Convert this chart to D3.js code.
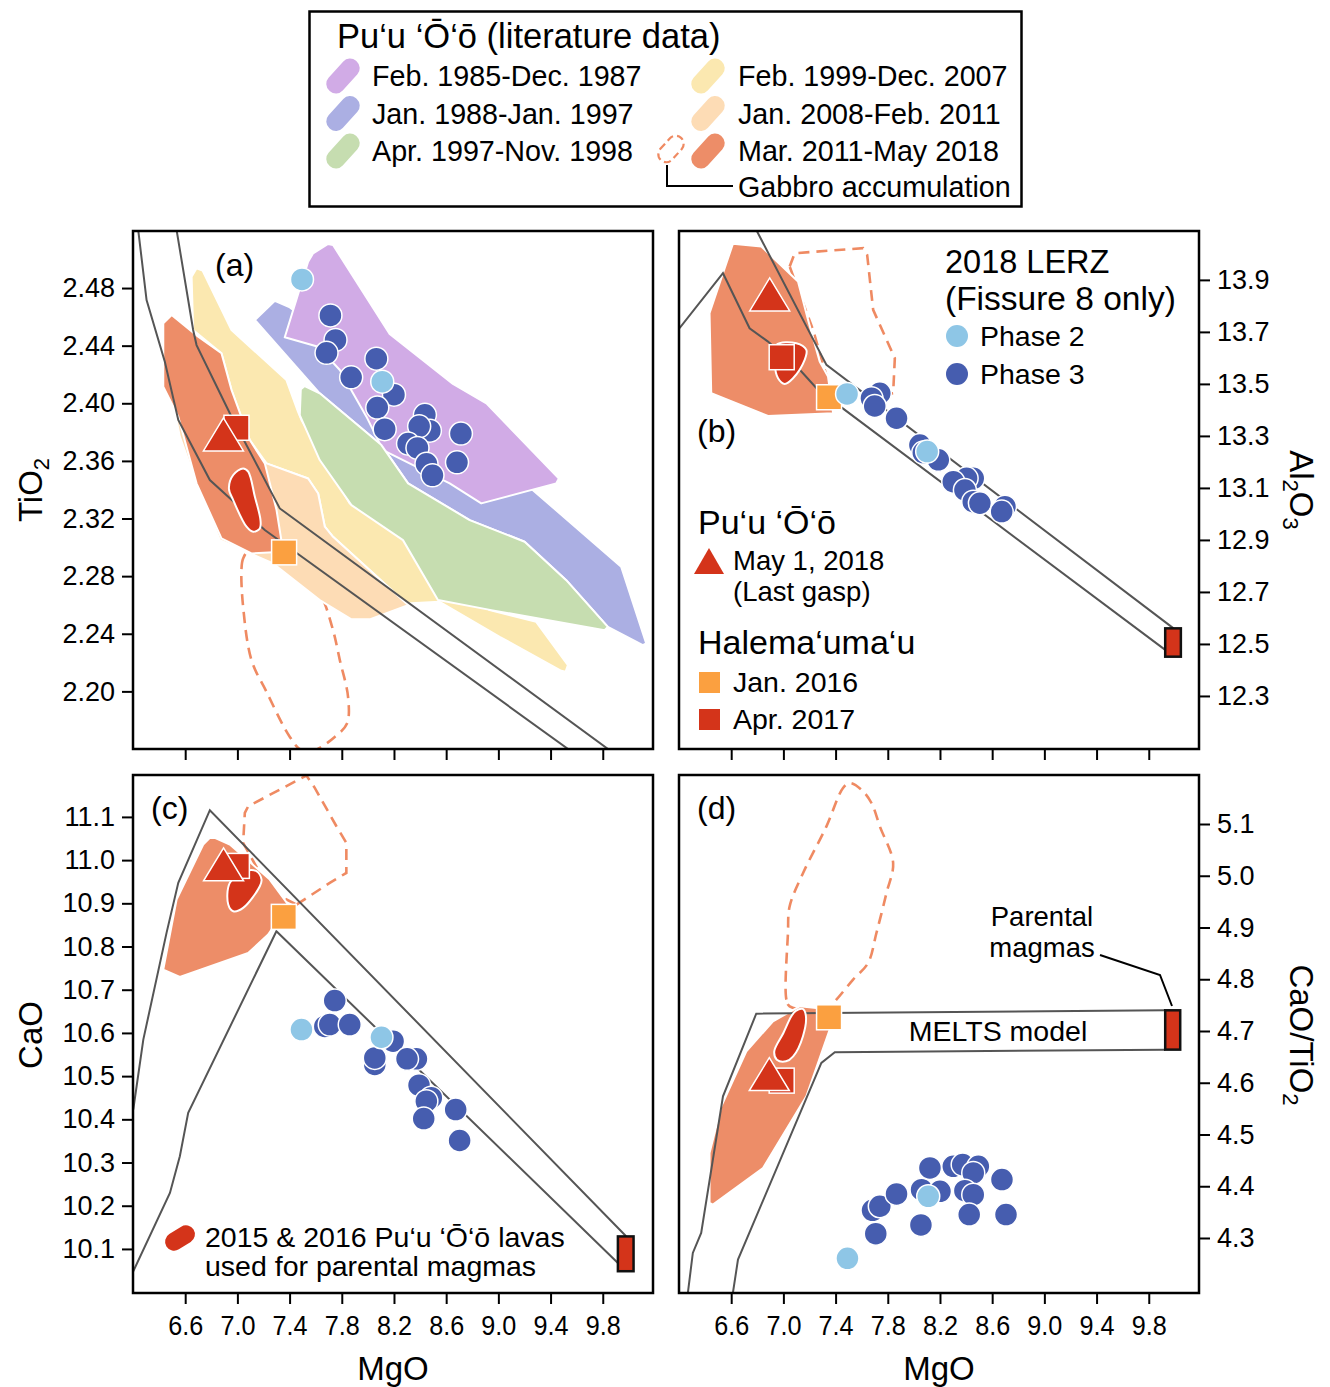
<!DOCTYPE html>
<html>
<head>
<meta charset="utf-8">
<script src="https://cdn.jsdelivr.net/npm/d3@7"></script>
<style>
  body { margin: 0; background: #fff; }
  svg { font-family: "Liberation Sans", Arial, Helvetica, sans-serif; }
</style>
</head>
<body>
<svg id="fig" width="1330" height="1387"></svg>
<script>
// ---- axis ranges and ticks ----
var mgDomain = [6.2, 10.185];
var mgTicks = [6.6, 7.0, 7.4, 7.8, 8.2, 8.6, 9.0, 9.4, 9.8];
var tiTicks = [2.20, 2.24, 2.28, 2.32, 2.36, 2.40, 2.44, 2.48];
var alTicks = [12.3, 12.5, 12.7, 12.9, 13.1, 13.3, 13.5, 13.7, 13.9];
var caTicks = [10.1, 10.2, 10.3, 10.4, 10.5, 10.6, 10.7, 10.8, 10.9, 11.0, 11.1];
var ratioTicks = [4.3, 4.4, 4.5, 4.6, 4.7, 4.8, 4.9, 5.0, 5.1];

// ---- colours ----
var cPurple = "#d1abe6", cBlue = "#abafe3", cGreen = "#c6ddb0", cYellow = "#fbe8b0",
    cPeach = "#fddcb5", cSalmon = "#ed8d68", cRed = "#d4341a", cOrange = "#fba040",
    cPhase2 = "#8ec6e6", cPhase3 = "#465daf", cLine = "#555555", cGabbro = "#ef8a62";

// ---- (a) TiO2 vs MgO ----
var tiPurple = [[7.619,2.4393],[7.785,2.4231],[7.989,2.3907],[8.116,2.3675],[8.627,2.3444],[8.869,2.3305],
  [9.443,2.3444],[9.464,2.3478],[8.908,2.3999],[8.652,2.4134],[8.167,2.4481],[7.733,2.5099],[7.695,2.5106],
  [7.58,2.5041],[7.542,2.4983],[7.363,2.4458]];
var tiBlue = [[7.287,2.4712],[7.402,2.4666],[9.265,2.3397],[9.941,2.2865],[10.133,2.2333],[10.107,2.2321],
  [9.839,2.2448],[9.52,2.2772],[9.201,2.3039],[8.78,2.3189],[8.308,2.3444],[8.104,2.371],[7.631,2.4069],[7.134,2.4578]];
var tiYellow = [[6.687,2.4937],[6.733,2.4921],[6.955,2.4509],[7.376,2.4161],[7.465,2.3941],[7.491,2.3884],
  [7.861,2.3305],[8.32,2.3039],[8.933,2.2564],[9.29,2.2483],[9.533,2.2182],[9.515,2.2136],[9.482,2.2143],
  [9.01,2.2379],[8.55,2.2622],[8.295,2.261],[7.733,2.3073],[7.67,2.3143],[7.619,2.3374],[7.542,2.3478],
  [7.223,2.3583],[7.095,2.3745],[6.955,2.4092],[6.878,2.4347],[6.661,2.4509],[6.649,2.4879]];
var tiGreen = [[7.516,2.412],[7.486,2.4097],[7.478,2.3918],[7.631,2.3606],[7.874,2.3293],[8.269,2.305],
  [8.537,2.2634],[8.946,2.2564],[9.814,2.2425],[9.839,2.2448],[9.52,2.2772],[9.201,2.3039],[8.78,2.3189],
  [8.308,2.3444],[8.104,2.371],[7.631,2.4069]];
var tiPeach = [[6.521,2.3942],[6.559,2.3768],[6.687,2.3444],[6.866,2.305],[7.274,2.2888],[7.631,2.2634],
  [7.874,2.25],[8.014,2.25],[8.308,2.2599],[7.733,2.3073],[7.67,2.3143],[7.619,2.3374],[7.542,2.3478],
  [7.223,2.3583],[7.044,2.3768],[6.712,2.3953]];
var tiSalmon = [[6.496,2.4613],[6.432,2.4555],[6.432,2.4115],[6.547,2.3907],[6.687,2.3444],[6.878,2.3062],
  [7.108,2.2958],[7.351,2.2969],[7.30,2.3259],[7.21,2.3583],[7.095,2.3745],[6.955,2.4092],[6.878,2.4347],[6.70,2.4462]];
var tiGabbro = [[7.095,2.298],[7.044,2.2923],[7.031,2.2842],[7.044,2.2587],[7.108,2.2217],[7.223,2.1997],
  [7.402,2.1684],[7.491,2.1592],[7.593,2.1592],[7.746,2.1684],[7.84,2.1777],[7.848,2.1962],[7.785,2.2217],
  [7.733,2.2425],[7.656,2.2634],[7.631,2.2657],[7.351,2.2888]];
var tiBlob = [[7.044,2.3548],[6.968,2.3502],[6.935,2.3409],[6.968,2.3328],[7.07,2.3143],[7.121,2.3108],
  [7.172,2.3131],[7.177,2.3189],[7.134,2.3351],[7.083,2.3525]];
var tiMeltsA = [[6.24,2.5203],[6.304,2.4717],[6.444,2.4289],[6.547,2.3884],[6.789,2.3467],[7.21,2.312],[9.546,2.1592]];
var tiMeltsB = [[6.534,2.5203],[6.661,2.4509],[6.687,2.4404],[6.955,2.3907],[7.325,2.327],[9.852,2.1592]];
var tiPhase2 = [[7.495,2.486],[8.11,2.415]];
var tiPhase3 = [[7.713,2.461],[7.752,2.444],[7.683,2.435],[8.065,2.431],[7.872,2.418],[8.20,2.406],[8.072,2.397],
  [8.129,2.382],[8.437,2.392],[8.475,2.381],[8.393,2.384],[8.308,2.372],[8.38,2.369],[8.449,2.358],[8.495,2.350],
  [8.713,2.379],[8.683,2.359]];
var tiLastGasp = [6.893, 2.378], tiJan2016 = [7.358, 2.2965], tiApr2017 = [6.993, 2.383];

// ---- (b) Al2O3 vs MgO ----
var alSalmon = [[6.613,14.0385],[6.537,13.9256],[6.434,13.7718],[6.447,13.4641],[6.882,13.3769],[7.381,13.3872],
  [7.342,13.5282],[7.278,13.5859],[7.189,13.7462],[7.112,13.8936],[6.831,14.0282]];
var alGabbro = [[7.048,13.9513],[7.087,14.0026],[7.611,14.0218],[7.642,13.9962],[7.688,13.7846],[7.854,13.5987],
  [7.841,13.4641],[7.637,13.4513],[7.355,13.4897],[7.227,13.7077]];
var alBlob = [[6.946,13.65],[7.099,13.6564],[7.176,13.6308],[7.163,13.5923],[7.074,13.5218],[7.01,13.5],
  [6.959,13.5218],[6.933,13.5795]];
var alMeltsA = [[6.792,14.0923],[7.33,13.573],[9.99,12.56]];
var alMeltsB = [[6.204,13.714],[6.537,13.9256],[6.741,13.714],[6.882,13.6628],[7.138,13.5474],[7.266,13.477],[9.926,12.477]];
var alParental = [[9.926, 10.046], [12.451, 12.56]];
var alPhase2 = [[7.488,13.4615],[8.102,13.2397]];
var alPhase3 = [[7.739,13.464],[7.675,13.445],[7.70,13.415],[7.867,13.368],[8.046,13.265],[8.187,13.208],[8.072,13.236],
  [8.455,13.137],[8.404,13.137],[8.302,13.124],[8.391,13.092],[8.455,13.047],[8.506,13.041],[8.698,13.028],[8.673,13.009]];
var alLastGasp = [6.895, 13.842], alJan2016 = [7.35, 13.4487], alApr2017 = [6.987, 13.6026];

// ---- (c) CaO vs MgO ----
var caSalmon = [[6.789,11.0514],[6.738,11.036],[6.534,10.9087],[6.432,10.7467],[6.559,10.7297],[7.083,10.7852],
  [7.236,10.8277],[7.389,10.8971],[7.248,10.955],[6.942,11.036],[6.827,11.0514]];
var caGabbro = [[7.453,10.8971],[7.708,10.9473],[7.835,10.9704],[7.835,11.0399],[7.759,11.0784],[7.593,11.1672],
  [7.529,11.1957],[7.083,11.1247],[7.057,11.1093],[7.044,11.0399],[7.172,10.9704],[7.325,10.9164]];
var caBlob = [[6.942,10.9473],[7.057,10.9743],[7.146,10.9743],[7.185,10.955],[7.172,10.9396],[7.044,10.8894],
  [6.968,10.8817],[6.93,10.8971]];
var caMeltsA = [[6.202,10.4226],[6.279,10.5846],[6.457,10.8315],[6.547,10.9473],[6.789,11.1155],[9.979,10.1294]];
var caMeltsB = [[6.202,10.0483],[6.483,10.2296],[6.559,10.3146],[6.623,10.4149],[7.299,10.8354],[9.916,10.0676]];
var caParental = [[9.916, 10.036], [10.0484, 10.129]];
var caPhase2 = [[7.491,10.6078],[8.104,10.59]];
var caPhase3 = [[7.67,10.615],[7.746,10.6749],[7.708,10.6193],[7.861,10.6193],[8.193,10.5808],[8.053,10.527],
  [8.053,10.5422],[8.372,10.54],[8.30,10.54],[8.392,10.479],[8.486,10.45],[8.448,10.442],[8.673,10.4226],
  [8.428,10.4018],[8.703,10.351]];
var caLastGasp = [6.894, 10.989], caJan2016 = [7.356, 10.8686], caApr2017 = [6.996, 10.9866];

// ---- (d) CaO/TiO2 vs MgO ----
var rtSalmon = [[7.125,4.7477],[6.92,4.7188],[6.716,4.6608],[6.524,4.5545],[6.434,4.4643],[6.434,4.3677],
  [6.46,4.3645],[6.844,4.4353],[7.176,4.5738],[7.355,4.7026],[7.253,4.7445]];
var rtGabbro = [[7.048,4.7477],[7.023,4.7606],[7.035,4.8894],[7.048,4.9409],[7.151,5.0054],[7.33,5.0955],
  [7.457,5.1696],[7.509,5.1793],[7.598,5.1664],[7.675,5.1406],[7.739,5.0955],[7.841,5.0247],[7.79,4.9667],
  [7.713,4.8894],[7.649,4.8315],[7.534,4.7993],[7.406,4.7606],[7.33,4.7413]];
var rtBlob = [[7.095,4.739],[7.148,4.7426],[7.172,4.730],[7.150,4.690],[7.075,4.651],[7.020,4.6414],
  [6.950,4.6446],[6.930,4.6607],[7.000,4.6962],[7.061,4.7284]];
var rtMeltsA = [[6.268,4.1938],[6.306,4.2711],[6.37,4.3097],[6.537,4.5738],[6.792,4.7335],[9.926,4.74]];
var rtMeltsB = [[6.613,4.1938],[6.652,4.2582],[7.291,4.6382],[7.394,4.6588],[9.926,4.664]];
var rtParental = [[9.926, 10.041], [4.664, 4.74]];
var rtPhase2 = [[7.491,4.2608],[8.11,4.3806]];
var rtPhase3 = [[7.683,4.3535],[7.739,4.3613],[7.867,4.3851],[8.059,4.3934],[8.20,4.3902],[8.123,4.4353],
  [8.302,4.4385],[8.374,4.4418],[8.494,4.4385],[8.455,4.4257],[8.391,4.3915],[8.455,4.3838],[8.675,4.4128],
  [8.424,4.3452],[8.706,4.3452],[8.054,4.3252],[7.708,4.3084]];
var rtLastGasp = [6.892, 4.6157], rtJan2016 = [7.35, 4.7265], rtApr2017 = [6.987, 4.6041];

var svg = d3.select("#fig");
var triPath = "M0,-17L20,16L-20,16Z";

function drawPanel(p) {
  var g = svg.append("g").attr("transform", "translate(" + p.x0 + "," + p.y0 + ")");
  var x = d3.scaleLinear().domain(mgDomain).range([0, p.w]);
  var y = d3.scaleLinear().domain(p.yDomain).range([p.h, 0]);

  g.append("clipPath").attr("id", "clip-" + p.id)
    .append("rect").attr("width", p.w).attr("height", p.h);
  var plot = g.append("g").attr("clip-path", "url(#clip-" + p.id + ")");

  var open = d3.line().x(function(d) { return x(d[0]); }).y(function(d) { return y(d[1]); });
  var closed = d3.line().x(function(d) { return x(d[0]); }).y(function(d) { return y(d[1]); })
    .curve(d3.curveLinearClosed);
  var smooth = d3.line().x(function(d) { return x(d[0]); }).y(function(d) { return y(d[1]); })
    .curve(d3.curveCatmullRomClosed.alpha(0.5));

  // gabbro accumulation outline
  plot.append("path").attr("d", (p.smoothGabbro ? smooth : closed)(p.gabbro))
    .attr("fill", "none").attr("stroke", cGabbro).attr("stroke-width", 2.6)
    .attr("stroke-dasharray", "11,7");

  // literature fields
  plot.selectAll("path.field").data(p.fields).enter().append("path")
    .attr("class", "field")
    .attr("d", function(d) { return closed(d.pts); })
    .attr("fill", function(d) { return d.color; })
    .attr("stroke", "#fff").attr("stroke-width", 2).attr("stroke-linejoin", "round");

  // MELTS model curves
  plot.selectAll("path.melts").data(p.melts).enter().append("path")
    .attr("class", "melts")
    .attr("d", open).attr("fill", "none").attr("stroke", cLine).attr("stroke-width", 2);

  if (p.parental) {
    plot.append("rect")
      .attr("x", x(p.parental[0][0])).attr("width", x(p.parental[0][1]) - x(p.parental[0][0]))
      .attr("y", y(p.parental[1][1])).attr("height", y(p.parental[1][0]) - y(p.parental[1][1]))
      .attr("fill", cRed).attr("stroke", "#111").attr("stroke-width", 2.5);
  }

  // 2015-2016 lavas blob
  plot.append("path").attr("d", smooth(p.blob))
    .attr("fill", cRed).attr("stroke", "#fff").attr("stroke-width", 2);

  function square(pt, color) {
    plot.append("rect").attr("x", x(pt[0]) - 12.5).attr("y", y(pt[1]) - 12.5)
      .attr("width", 25).attr("height", 25)
      .attr("fill", color).attr("stroke", "#fff").attr("stroke-width", 1.5);
  }
  square(p.jan2016, cOrange);
  square(p.apr2017, cRed);
  plot.append("path").attr("d", triPath)
    .attr("transform", "translate(" + x(p.lastGasp[0]) + "," + y(p.lastGasp[1]) + ")")
    .attr("fill", cRed).attr("stroke", "#fff").attr("stroke-width", 1.5);

  plot.selectAll("circle.p3").data(p.phase3).enter().append("circle")
    .attr("class", "p3")
    .attr("cx", function(d) { return x(d[0]); }).attr("cy", function(d) { return y(d[1]); })
    .attr("r", 11.5).attr("fill", cPhase3).attr("stroke", "#fff").attr("stroke-width", 1.5);
  plot.selectAll("circle.p2").data(p.phase2).enter().append("circle")
    .attr("class", "p2")
    .attr("cx", function(d) { return x(d[0]); }).attr("cy", function(d) { return y(d[1]); })
    .attr("r", 11.5).attr("fill", cPhase2).attr("stroke", "#fff").attr("stroke-width", 1.5);

  // axes
  var xa = g.append("g").attr("transform", "translate(0," + p.h + ")")
    .call(d3.axisBottom(x).tickValues(mgTicks).tickSize(11).tickPadding(12)
      .tickFormat(p.xLabels ? d3.format(".1f") : function() { return ""; }));
  var ya = g.append("g").attr("transform", p.side === "left" ? "translate(0,0)" : "translate(" + p.w + ",0)")
    .call((p.side === "left" ? d3.axisLeft(y) : d3.axisRight(y)).tickValues(p.ticks)
      .tickSize(11).tickPadding(7).tickFormat(d3.format(p.fmt)));
  [xa, ya].forEach(function(a) {
    a.select(".domain").remove();
    a.selectAll(".tick line").attr("stroke", "#000").attr("stroke-width", 2);
    a.selectAll(".tick text").attr("fill", "#000").attr("font-size", 27)
      .attr("font-family", "'Liberation Sans', Arial, sans-serif");
  });
  xa.selectAll(".tick text").attr("textLength", 35).attr("lengthAdjust", "spacingAndGlyphs");

  g.append("rect").attr("width", p.w).attr("height", p.h)
    .attr("fill", "none").attr("stroke", "#000").attr("stroke-width", 2.5);

  g.append("text").attr("x", p.labelPos[0]).attr("y", p.labelPos[1])
    .attr("font-size", 32).text("(" + p.id + ")");
  return g;
}

drawPanel({
  id: "a", x0: 133, y0: 231, w: 520, h: 518, yDomain: [2.16, 2.5196], ticks: tiTicks, fmt: ".2f",
  side: "left", xLabels: false, labelPos: [82, 45], smoothGabbro: true,
  fields: [{pts: tiBlue, color: cBlue}, {pts: tiPurple, color: cPurple}, {pts: tiYellow, color: cYellow},
           {pts: tiGreen, color: cGreen}, {pts: tiPeach, color: cPeach}, {pts: tiSalmon, color: cSalmon}],
  gabbro: tiGabbro, melts: [tiMeltsA, tiMeltsB], blob: tiBlob,
  phase2: tiPhase2, phase3: tiPhase3, lastGasp: tiLastGasp, jan2016: tiJan2016, apr2017: tiApr2017
});
drawPanel({
  id: "b", x0: 679, y0: 231, w: 520, h: 518, yDomain: [12.096, 14.088], ticks: alTicks, fmt: ".1f",
  side: "right", xLabels: false, labelPos: [18, 211], smoothGabbro: false,
  fields: [{pts: alSalmon, color: cSalmon}],
  gabbro: alGabbro, melts: [alMeltsA, alMeltsB], blob: alBlob, parental: alParental,
  phase2: alPhase2, phase3: alPhase3, lastGasp: alLastGasp, jan2016: alJan2016, apr2017: alApr2017
});
drawPanel({
  id: "c", x0: 133, y0: 775, w: 520, h: 518, yDomain: [9.998, 11.197], ticks: caTicks, fmt: ".1f",
  side: "left", xLabels: true, labelPos: [18, 44], smoothGabbro: false,
  fields: [{pts: caSalmon, color: cSalmon}],
  gabbro: caGabbro, melts: [caMeltsA, caMeltsB], blob: caBlob, parental: caParental,
  phase2: caPhase2, phase3: caPhase3, lastGasp: caLastGasp, jan2016: caJan2016, apr2017: caApr2017
});
var gd = drawPanel({
  id: "d", x0: 679, y0: 775, w: 520, h: 518, yDomain: [4.1937, 5.1947], ticks: ratioTicks, fmt: ".1f",
  side: "right", xLabels: true, labelPos: [18, 44], smoothGabbro: true,
  fields: [{pts: rtSalmon, color: cSalmon}],
  gabbro: rtGabbro, melts: [rtMeltsA, rtMeltsB], blob: rtBlob, parental: rtParental,
  phase2: rtPhase2, phase3: rtPhase3, lastGasp: rtLastGasp, jan2016: rtJan2016, apr2017: rtApr2017
});

// annotations in (d)
gd.append("text").attr("x", 319).attr("y", 266).attr("text-anchor", "middle").attr("font-size", 28.5).text("MELTS model");
gd.append("text").attr("x", 363).attr("y", 151).attr("text-anchor", "middle").attr("font-size", 27.5).text("Parental");
gd.append("text").attr("x", 363).attr("y", 182).attr("text-anchor", "middle").attr("font-size", 27.5).text("magmas");
gd.append("polyline").attr("points", "421,180 481,200 493,231")
  .attr("fill", "none").attr("stroke", "#000").attr("stroke-width", 2);

// axis titles
function vTitle(xp, yp, rot, parts) {
  var t = svg.append("text").attr("transform", "translate(" + xp + "," + yp + ") rotate(" + rot + ")")
    .attr("text-anchor", "middle").attr("font-size", 33);
  parts.forEach(function(s) {
    if (s.sub) {
      t.append("tspan").attr("font-size", 22).attr("dy", 7).text(s.t);
    } else {
      t.append("tspan").attr("dy", s.back ? -7 : 0).text(s.t);
    }
  });
}
vTitle(42, 490, -90, [{t: "TiO"}, {t: "2", sub: true}]);
vTitle(42, 1035, -90, [{t: "CaO"}]);
vTitle(1290, 490, 90, [{t: "Al"}, {t: "2", sub: true}, {t: "O", back: true}, {t: "3", sub: true}]);
vTitle(1290, 1035, 90, [{t: "CaO/TiO"}, {t: "2", sub: true}]);
svg.append("text").attr("x", 393).attr("y", 1380).attr("text-anchor", "middle").attr("font-size", 33).text("MgO");
svg.append("text").attr("x", 939).attr("y", 1380).attr("text-anchor", "middle").attr("font-size", 33).text("MgO");

// ---- top legend ----
var legendLeft = [["Feb. 1985-Dec. 1987", cPurple], ["Jan. 1988-Jan. 1997", cBlue], ["Apr. 1997-Nov. 1998", cGreen]];
var legendRight = [["Feb. 1999-Dec. 2007", cYellow], ["Jan. 2008-Feb. 2011", cPeach], ["Mar. 2011-May 2018", cSalmon]];

var lg = svg.append("g");
lg.append("rect").attr("x", 309.5).attr("y", 11.5).attr("width", 712).attr("height", 195)
  .attr("fill", "#fff").attr("stroke", "#000").attr("stroke-width", 2.5);
lg.append("text").attr("x", 337).attr("y", 48).attr("font-size", 34.5).text("Pu‘u ‘Ō‘ō (literature data)");

function pill(parent, cx, cy, fill, dashed) {
  var r = parent.append("rect").attr("x", -20).attr("y", -9.5).attr("width", 40).attr("height", 19).attr("rx", 9)
    .attr("transform", "translate(" + cx + "," + cy + ") rotate(-48)");
  if (dashed) {
    r.attr("fill", "none").attr("stroke", cGabbro).attr("stroke-width", 2.2).attr("stroke-dasharray", "7,4")
      .attr("x", -15).attr("y", -8).attr("width", 30).attr("height", 16).attr("rx", 8);
  } else {
    r.attr("fill", fill);
  }
  return r;
}
legendLeft.forEach(function(d, i) {
  pill(lg, 343, 76 + i * 37.5, d[1]);
  lg.append("text").attr("x", 372).attr("y", 86 + i * 37.5).attr("font-size", 28.7).text(d[0]);
});
legendRight.forEach(function(d, i) {
  pill(lg, 708, 76 + i * 37.5, d[1]);
  lg.append("text").attr("x", 738).attr("y", 86 + i * 37.5).attr("font-size", 28.7).text(d[0]);
});
pill(lg, 671, 149, null, true);
lg.append("polyline").attr("points", "667,165 667,186 733,186")
  .attr("fill", "none").attr("stroke", "#000").attr("stroke-width", 2);
lg.append("text").attr("x", 738).attr("y", 197).attr("font-size", 28.7).text("Gabbro accumulation");

// ---- legend inside (b) ----
var lb = svg.append("g");
lb.append("text").attr("x", 945).attr("y", 273).attr("font-size", 32.5).text("2018 LERZ");
lb.append("text").attr("x", 945).attr("y", 310).attr("font-size", 33.5).text("(Fissure 8 only)");
lb.append("circle").attr("cx", 957).attr("cy", 336).attr("r", 11).attr("fill", cPhase2);
lb.append("text").attr("x", 980).attr("y", 346).attr("font-size", 28.5).text("Phase 2");
lb.append("circle").attr("cx", 957).attr("cy", 374).attr("r", 11).attr("fill", cPhase3);
lb.append("text").attr("x", 980).attr("y", 384).attr("font-size", 28.5).text("Phase 3");

lb.append("text").attr("x", 698).attr("y", 534).attr("font-size", 34).text("Pu‘u ‘Ō‘ō");
lb.append("path").attr("d", "M0,-13L15,13L-15,13Z").attr("transform", "translate(709,561)").attr("fill", cRed);
lb.append("text").attr("x", 733).attr("y", 570).attr("font-size", 27.5).text("May 1, 2018");
lb.append("text").attr("x", 733).attr("y", 601).attr("font-size", 27.5).text("(Last gasp)");
lb.append("text").attr("x", 698).attr("y", 654).attr("font-size", 34).text("Halema‘uma‘u");
lb.append("rect").attr("x", 699).attr("y", 672).attr("width", 21).attr("height", 21).attr("fill", cOrange);
lb.append("text").attr("x", 733).attr("y", 692).attr("font-size", 28.5).text("Jan. 2016");
lb.append("rect").attr("x", 699).attr("y", 709).attr("width", 21).attr("height", 21).attr("fill", cRed);
lb.append("text").attr("x", 733).attr("y", 729).attr("font-size", 28.5).text("Apr. 2017");

// ---- legend inside (c) ----
var lc = svg.append("g");
lc.append("rect").attr("x", -16).attr("y", -9).attr("width", 32).attr("height", 18).attr("rx", 9)
  .attr("transform", "translate(180,1238) rotate(-32)").attr("fill", cRed);
lc.append("text").attr("x", 205).attr("y", 1247).attr("font-size", 28.5).text("2015 & 2016 Pu‘u ‘Ō‘ō lavas");
lc.append("text").attr("x", 205).attr("y", 1276).attr("font-size", 28.5).text("used for parental magmas");
</script>
</body>
</html>
